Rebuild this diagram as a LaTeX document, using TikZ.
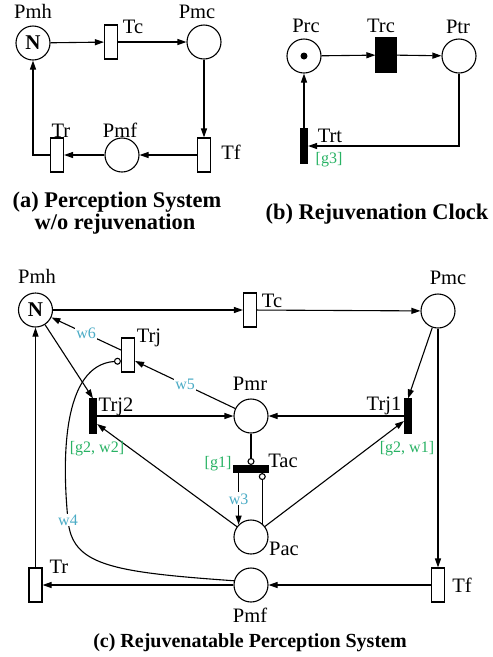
\documentclass[tikz,border=0pt]{standalone}
\usepackage{fontspec}
\setmainfont{Liberation Serif}
\usetikzlibrary{arrows.meta,calc}
\definecolor{gcol}{RGB}{40,178,100}
\definecolor{bcol}{RGB}{75,172,198}
\begin{document}
\begin{tikzpicture}[x=1pt,y=-1pt,
  place/.style={circle,draw,line width=1.1pt,minimum size=34pt,inner sep=0pt},
  wtrans/.style={rectangle,draw,line width=1.1pt,minimum width=13pt,minimum height=34pt,inner sep=0pt},
  bbar/.style={rectangle,draw,fill=black,line width=1.1pt,minimum width=7pt,minimum height=34pt,inner sep=0pt},
  hbar/.style={rectangle,draw,fill=black,line width=1.1pt,minimum width=35pt,minimum height=7pt,inner sep=0pt},
  fat/.style={rectangle,draw,fill=black,line width=1.1pt,minimum width=20pt,minimum height=35pt,inner sep=0pt},
  tok/.style={circle,fill=black,minimum size=7pt,inner sep=0pt},
  bigN/.style={font=\bfseries\fontsize{21}{21}\selectfont},
  lab/.style={font=\fontsize{20.5}{20.5}\selectfont,inner sep=0pt,anchor=base},
  glab/.style={font=\fontsize{16}{16}\selectfont,text=gcol,inner sep=0pt,anchor=base},
  blab/.style={font=\fontsize{16}{16}\selectfont,text=bcol,inner sep=1pt,fill=white},
  captxt/.style={font=\bfseries\fontsize{22.4}{24}\selectfont,inner sep=0pt,anchor=base},
  captxtc/.style={font=\bfseries\fontsize{20}{24}\selectfont,inner sep=0pt,anchor=base},
  flow/.style={draw,line width=1.1pt,-{Triangle[length=9pt,width=6pt]}},
  inh/.style={draw,line width=1.1pt,-{Circle[open,length=7pt,width=7pt,line width=1.1pt]}}
]
\useasboundingbox (0,0) rectangle (493,657);

% ---------- (a) ----------
\node[place,bigN] (aPmh) at (33,43) {N};
\node[wtrans] (aTc) at (111,42) {};
\node[place] (aPmc) at (204,42) {};
\node[wtrans] (aTf) at (204,155) {};
\node[place] (aPmf) at (122,155) {};
\node[wtrans] (aTr) at (57,155) {};
\node[lab] (laPmh) at (33,18) {Pmh};
\node[lab] (laTc) at (133,33) {Tc};
\node[lab] (laPmc) at (197,18) {Pmc};
\node[lab] (laTr) at (61,137) {Tr};
\node[lab] (laPmf) at (120,137) {Pmf};
\node[lab] (laTf) at (231,159) {Tf};
\draw[flow] (aPmh) -- (aTc);
\draw[flow] (aTc) -- (aPmc);
\draw[flow] (aPmc) -- (aTf);
\draw[flow] (aTf) -- (aPmf);
\draw[flow] (aPmf) -- (aTr);
\draw[flow] (aTr.west) -| (aPmh.south);
\node[captxt] (capa1) at (117,207) {(a) Perception System};
\node[captxt] (capa2) at (115,229) {w/o rejuvenation};

% ---------- (b) ----------
\node[place] (Prc) at (304,56) {};
\node[tok] (tk) at (Prc.center) {};
\node[fat] (Trc) at (386,55) {};
\node[place] (Ptr) at (459,56) {};
\node[bbar] (Trt) at (304,146) {};
\draw[flow] (Prc) -- (Trc);
\draw[flow] (Trc) -- (Ptr);
\draw[flow] (Ptr.south) |- (Trt.east);
\draw[flow] (Trt.north) -- (Prc.south);
\node[lab] (lPrc) at (306,32) {Prc};
\node[lab] (lTrc) at (381,32) {Trc};
\node[lab] (lPtr) at (458,33) {Ptr};
\node[lab] (lTrt) at (330,142) {Trt};
\node[glab] (lg3) at (329,163) {[g3]};
\node[captxt] (capb) at (377,219) {(b) Rejuvenation Clock};

% ---------- (c) ----------
\node[place,bigN] (Pmh) at (35.5,310) {N};
\node[wtrans] (Tc) at (250,310) {};
\node[place] (Pmc) at (438,311) {};
\node[wtrans] (Trj) at (128,355) {};
\node[bbar] (Trj2) at (93,416) {};
\node[bbar] (Trj1) at (408,416) {};
\node[place] (Pmr) at (251,416) {};
\node[hbar] (Tac) at (251,469) {};
\node[place] (Pac) at (251,537) {};
\node[place] (Pmf) at (251,585) {};
\node[wtrans] (Tr) at (35.5,585) {};
\node[wtrans] (Tf) at (438,585) {};

\draw[flow] (Pmh) -- (Tc);
\draw[flow] (Tc) -- (Pmc);
\draw[flow] (Pmc) -- (Tf);
\draw[flow] (Pmc) -- (Trj1.north);
\draw[flow] (Tf) -- (Pmf);
\draw[flow] (Pmf) -- (Tr);
\draw[flow] (Tr) -- (Pmh);
\draw[flow] (Pmh) -- (Trj2.north);
\draw[flow] (Trj2) -- (Pmr);
\draw[flow] (Trj1) -- (Pmr);
\draw[flow] (Pac) -- ($(Trj2.east)+(0,8)$);
\draw[flow] (Pac) -- ($(Trj1.west)+(0,5)$);
\draw[flow] ($(Trj.west)+(0,-5)$) -- node[blab] (w6) {w6} (Pmh);
\draw[flow] (Pmr) -- node[blab] (w5) {w5} ($(Trj.east)+(0,6)$);
\draw[inh] (Pmr) -- (Tac);
\draw[inh] (Pac.50) -- (Pac.50 |- Tac.south);
\draw[flow] (Tac.south -| Pac.135) -- node[blab] (w3) {w3} (Pac.135);
\draw[inh] (Pmf.166) .. controls (110,572) and (72,565) .. (68,520) node[blab] (w4) {w4}
   .. controls (62,460) and (62,365) .. ($(Trj.west)+(0,6)$);

\node[lab] (lPmh) at (37,283) {Pmh};
\node[lab] (lTc) at (272,307) {Tc};
\node[lab] (lPmc) at (448,284) {Pmc};
\node[lab] (lTrj) at (149,342) {Trj};
\node[lab] (lTrj2) at (116,411) {Trj2};
\node[lab] (lTrj1) at (384,410) {Trj1};
\node[lab] (lPmr) at (250,390) {Pmr};
\node[lab] (lTac) at (283,467) {Tac};
\node[glab] (lg1) at (218,467) {[g1]};
\node[glab] (lg2a) at (97,452) {[g2, w2]};
\node[glab] (lg2b) at (407,452) {[g2, w1]};
\node[lab] (lPac) at (284,555) {Pac};
\node[lab] (lTr) at (59,573) {Tr};
\node[lab] (lPmf) at (250,622) {Pmf};
\node[lab] (lTf) at (462,592) {Tf};
\node[captxtc] (capc) at (250,647) {(c) Rejuvenatable Perception System};
\end{tikzpicture}
\end{document}
